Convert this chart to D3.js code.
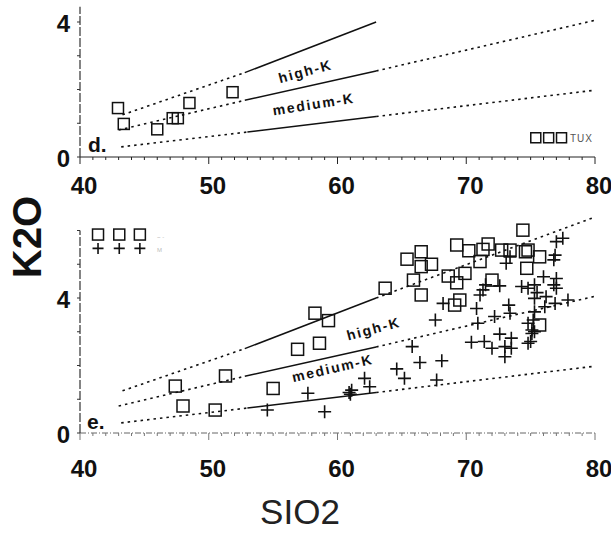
<!DOCTYPE html>
<html>
<head>
<meta charset="utf-8">
<script src="https://cdn.jsdelivr.net/npm/d3@7"></script>
<style>
  html, body { margin: 0; padding: 0; background: #fff; }
  svg { display: block; }
  text { font-family: "Liberation Sans", Arial, Helvetica, sans-serif; }
</style>
</head>
<body>
<svg id="chart" width="611" height="534"></svg>
<script>
// ---- data -------------------------------------------------------------
// panel d: TUX samples
const tuxSiO2 = [42.95, 43.4, 46.0, 47.2, 47.6, 48.5, 51.85];
const tuxK2O  = [1.45, 0.98, 0.82, 1.15, 1.15, 1.6, 1.92];

// panel e: square-symbol group
const sqSiO2 = [63.7, 58.25, 59.3, 56.9, 58.6, 51.3, 47.4, 48.0, 50.5, 55.0,
  74.4, 69.26, 70.2, 71.7, 71.3, 65.4, 66.5, 66.5, 67.3, 65.9, 66.5, 68.6, 69.9,
  69.26, 69.5, 69.1, 71.07, 72.0, 72.75, 73.4, 74.6, 74.8, 75.7, 74.7, 75.7];
const sqK2O = [4.29, 3.55, 3.33, 2.48, 2.66, 1.69, 1.39, 0.8, 0.68, 1.32,
  6.01, 5.57, 5.40, 5.60, 5.44, 5.15, 5.37, 4.93, 5.0, 4.53, 4.09, 4.65, 4.73,
  4.45, 3.94, 3.79, 5.08, 4.53, 5.42, 5.42, 5.37, 5.42, 5.22, 4.88, 3.2];

// panel e: cross-symbol group
const crSiO2 = [54.55, 57.7, 59.0, 60.9, 61.1, 61.0, 62.1, 62.5, 64.6, 65.2, 66.4,
  68.1, 67.7, 65.8, 70.4, 71.4, 72.0, 73.0, 73.5, 73.0, 73.5, 72.6, 74.8, 75.1, 75.3,
  77.5, 77.0, 76.9, 76.8, 73.1, 73.4, 76.0, 77.0, 76.8, 77.0, 75.3, 74.8, 74.3, 75.5,
  75.3, 76.2, 76.1, 76.9, 77.9, 75.3, 75.2, 75.1, 75.0, 74.8,
  71.5, 71.3, 72.6, 71.07, 68.2, 67.6, 70.8, 70.9, 72.2, 73.3, 73.4];
const crK2O = [0.68, 1.18, 0.63, 1.2, 1.27, 1.15, 1.62, 1.37, 1.9, 1.62, 2.09,
  2.14, 1.57, 2.56, 2.69, 2.71, 2.51, 2.56, 2.81, 2.26, 2.51, 2.93, 2.66, 2.95, 3.0,
  5.77, 5.67, 5.27, 5.13, 5.03, 5.22, 4.63, 4.58, 4.39, 4.29, 4.39, 4.29, 4.34, 4.16,
  3.99, 4.04, 3.74, 3.84, 3.94, 3.59, 3.35, 3.05, 2.71, 3.25,
  4.39, 4.24, 4.36, 4.09, 3.84, 3.35, 3.69, 3.25, 3.45, 3.79, 3.55];

// classification boundaries: [SiO2, K2O] vertices
const upperDashLow  = [[43.3, 1.25], [52.8, 2.5]];
const upperSolid    = [[52.8, 2.5], [63, 4.0]];
const upperDashHigh = [[63, 4.0], [80, 6.4]];
const midDashLow    = [[43, 0.8], [52.8, 1.68]];
const midSolid      = [[52.8, 1.68], [63, 2.55]];
const midDashHigh   = [[63, 2.55], [80, 4.05]];
const lowDashLow    = [[43.2, 0.3], [53, 0.74]];
const lowSolid      = [[53, 0.74], [63, 1.2]];
const lowDashHigh   = [[63, 1.2], [80, 1.98]];

const xTicks = [40, 50, 60, 70, 80];
const yTicks = [0, 4];
const fieldLabels = ["high-K", "medium-K"];

// ---- layout -----------------------------------------------------------
const svg = d3.select("#chart");
const x = d3.scaleLinear().domain([40, 80]).range([80, 595]);
const yD = d3.scaleLinear().domain([0, 4]).range([157, 22]);
const yE = d3.scaleLinear().domain([0, 4]).range([433, 298]);

function drawAxes(g, y, yMax, labelWeight, xLabelY, dottedBase) {
  const y0 = y(0);
  // x baseline
  g.append("line").attr("x1", x(40)).attr("x2", x(80)).attr("y1", y0).attr("y2", y0)
    .attr("stroke", dottedBase ? "#666" : "#222").attr("stroke-width", 1)
    .attr("stroke-dasharray", dottedBase ? "6,2,1,2" : null);
  // x minor / major ticks
  d3.range(40, 81, 1).forEach(v => {
    const major = v % 10 === 0;
    g.append("line").attr("x1", x(v)).attr("x2", x(v)).attr("y1", y0)
      .attr("y2", y0 + (major ? 7 : 3)).attr("stroke", dottedBase ? "#777" : "#222")
      .attr("stroke-width", 1);
  });
  // y axis line (slightly broken)
  g.append("line").attr("x1", x(40)).attr("x2", x(40)).attr("y1", y0).attr("y2", y(yMax))
    .attr("stroke", "#333").attr("stroke-width", 1.2).attr("stroke-dasharray", "9,2");
  d3.range(0, Math.floor(yMax) + 1).forEach(v => {
    g.append("line").attr("x1", x(40) - 3).attr("x2", x(40)).attr("y1", y(v)).attr("y2", y(v))
      .attr("stroke", "#333").attr("stroke-width", 1);
  });
  // tick labels
  g.selectAll(".xl").data(xTicks).join("text")
    .attr("x", d => x(d) + 4).attr("y", xLabelY)
    .attr("text-anchor", "middle").attr("font-size", 24)
    .attr("font-weight", labelWeight)
    .attr("fill", "#111").text(d => d);
  g.selectAll(".yl").data(yTicks).join("text")
    .attr("x", x(40) - 10).attr("y", d => y(d) + 10)
    .attr("text-anchor", "end").attr("font-size", 24)
    .attr("font-weight", labelWeight)
    .attr("fill", "#111").text(d => d);
}

function drawSeg(g, y, pts, dashed) {
  const line = d3.line().x(d => x(d[0])).y(d => y(d[1]));
  g.append("path").attr("d", line(pts)).attr("fill", "none")
    .attr("stroke", "#111").attr("stroke-width", dashed ? 1.6 : 1.5)
    .attr("stroke-dasharray", dashed ? "2.5,4" : null);
}

function squares(g, xs, ys, y, size) {
  g.selectAll(null).data(xs.map((v, i) => [v, ys[i]])).join("rect")
    .attr("x", d => x(d[0]) - size / 2).attr("y", d => y(d[1]) - size / 2)
    .attr("width", size).attr("height", size)
    .attr("fill", "none").attr("stroke", "#111").attr("stroke-width", 1.5);
}

function crosses(g, xs, ys, y, size) {
  const h = size / 2;
  g.selectAll(null).data(xs.map((v, i) => [v, ys[i]])).join("path")
    .attr("d", d => {
      const cx = x(d[0]), cy = y(d[1]);
      return `M${cx - h},${cy}H${cx + h}M${cx},${cy - h}V${cy + h}`;
    })
    .attr("fill", "none").attr("stroke", "#111").attr("stroke-width", 1.6);
}

function fieldLabel(g, y, text, sx, ky, angle) {
  g.append("text").attr("transform", `translate(${x(sx)},${y(ky)}) rotate(${angle})`)
    .attr("text-anchor", "middle").attr("font-size", 14).attr("font-weight", "bold")
    .attr("letter-spacing", 1.8).attr("fill", "#111").text(text);
}

// ---- panel d ----------------------------------------------------------
const gd = svg.append("g");
drawAxes(gd, yD, 4.45, "bold", 194, false);
drawSeg(gd, yD, upperDashLow, true);
drawSeg(gd, yD, upperSolid, false);
drawSeg(gd, yD, midDashLow, true);
drawSeg(gd, yD, midSolid, false);
drawSeg(gd, yD, midDashHigh, true);
drawSeg(gd, yD, lowDashLow, true);
drawSeg(gd, yD, lowSolid, false);
drawSeg(gd, yD, lowDashHigh, true);
fieldLabel(gd, yD, fieldLabels[0], 57.6, 2.4, -15);
fieldLabel(gd, yD, fieldLabels[1], 58.2, 1.42, -9);
squares(gd, tuxSiO2, tuxK2O, yD, 11);
gd.append("text").attr("x", 88).attr("y", 152).attr("font-size", 21)
  .attr("font-weight", "bold").attr("fill", "#111").text("d.");
// legend
squares(gd, [75.4, 76.4, 77.4], [0.57, 0.57, 0.57], yD, 10);
gd.append("text").attr("x", 570).attr("y", 142).attr("font-size", 10)
  .attr("fill", "#555").attr("letter-spacing", 1).text("TUX");

// ---- panel e ----------------------------------------------------------
const ge = svg.append("g");
drawAxes(ge, yE, 6.0, "600", 477, true);
drawSeg(ge, yE, upperDashLow, true);
drawSeg(ge, yE, upperSolid, false);
drawSeg(ge, yE, upperDashHigh, true);
drawSeg(ge, yE, midDashLow, true);
drawSeg(ge, yE, midSolid, false);
drawSeg(ge, yE, midDashHigh, true);
drawSeg(ge, yE, lowDashLow, true);
drawSeg(ge, yE, lowSolid, false);
drawSeg(ge, yE, lowDashHigh, true);
fieldLabel(ge, yE, fieldLabels[0], 62.9, 2.95, -15);
fieldLabel(ge, yE, fieldLabels[1], 59.7, 1.78, -13);
squares(ge, sqSiO2, sqK2O, yE, 12);
crosses(ge, crSiO2, crK2O, yE, 13);
ge.append("text").attr("x", 87).attr("y", 429).attr("font-size", 21)
  .attr("font-weight", "bold").attr("fill", "#111").text("e.");
// legend
squares(ge, [41.4, 43.05, 44.65], [5.88, 5.88, 5.88], yE, 11);
crosses(ge, [41.4, 43.05, 44.65], [5.47, 5.47, 5.47], yE, 11);
ge.append("text").attr("x", 157).attr("y", 239).attr("font-size", 6)
  .attr("fill", "#bbb").text("~ -");
ge.append("text").attr("x", 157).attr("y", 252).attr("font-size", 6)
  .attr("fill", "#bbb").text("M");

// ---- axis titles ------------------------------------------------------
svg.append("text").attr("transform", "translate(41,237) rotate(-90)")
  .attr("text-anchor", "middle").attr("font-size", 40).attr("font-weight", "bold")
  .attr("fill", "#111").text("K2O");
svg.append("text").attr("x", 300).attr("y", 524)
  .attr("text-anchor", "middle").attr("font-size", 35)
  .attr("fill", "#222").text("SIO2");
</script>
</body>
</html>
